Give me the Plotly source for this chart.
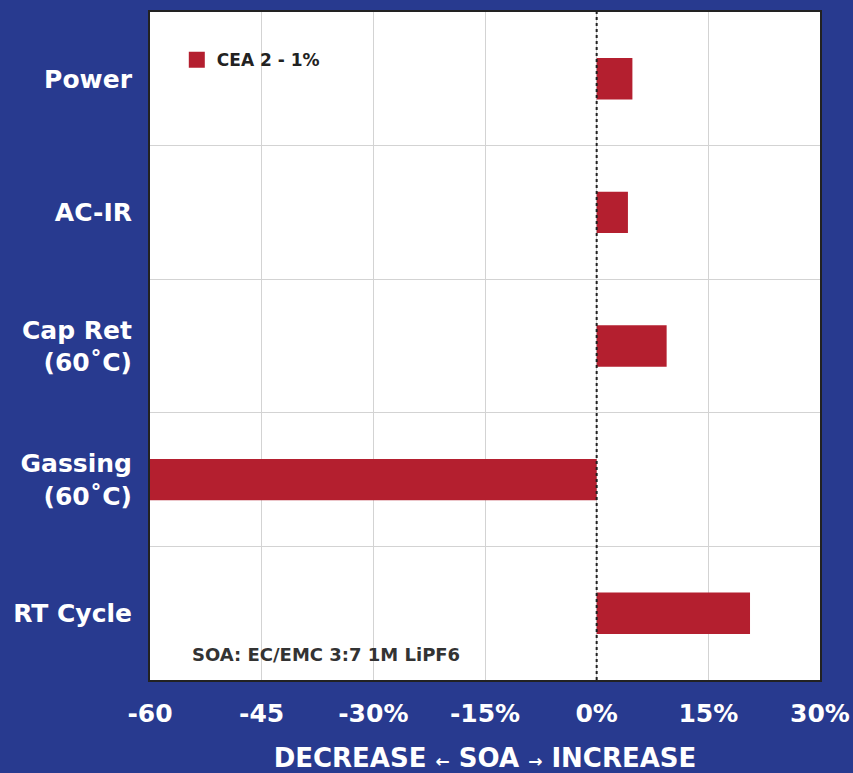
import plotly.graph_objects as go

categories = ["Power", "AC-IR", "Cap Ret<br>(60˚C)", "Gassing<br>(60˚C)", "RT Cycle"]
values = [4.8, 4.2, 9.4, -60, 20.6]
series_name = "CEA 2 - 1%"
tick_vals = [-60, -45, -30, -15, 0, 15, 30]
tick_text = ["-60", "-45", "-30%", "-15%", "0%", "15%", "30%"]

BG = "#283A8F"
RED = "#B41F2F"
FONT = "DejaVu Sans"

fig = go.Figure()
fig.add_trace(go.Bar(
    x=values, y=categories, orientation="h", name=series_name,
    marker=dict(color=RED, line=dict(width=0)), width=0.31,
    showlegend=False,
))
# legend entry with a larger square swatch
fig.add_trace(go.Scatter(
    x=[None], y=[None], mode="markers", name=series_name,
    marker=dict(symbol="square", size=18, color=RED), showlegend=True,
))

fig.add_shape(type="line", xref="x", yref="paper", x0=0, x1=0, y0=0, y1=1.005,
              line=dict(color="#222222", width=2, dash="dot"))

fig.add_annotation(xref="paper", yref="paper", x=0.06, y=0.038, xanchor="left", yanchor="middle",
                   text="SOA: EC/EMC 3:7 1M LiPF6", showarrow=False,
                   font=dict(family=FONT, size=18, color="#333333", weight="bold"))

fig.update_layout(
    width=853, height=773,
    paper_bgcolor=BG, plot_bgcolor="white",
    margin=dict(l=150, r=33, t=12, b=93),
    font=dict(family=FONT, color="white"),
    legend=dict(x=0.04, y=0.928, xanchor="left", yanchor="middle", bgcolor="rgba(0,0,0,0)",
                font=dict(family=FONT, size=17, color="#222222", weight="bold"),
                itemwidth=30),
    xaxis=dict(range=[-60, 30], tickvals=tick_vals, ticktext=tick_text, automargin=False,
               showgrid=True, gridcolor="#D3D3D3", gridwidth=1, zeroline=False,
               showline=True, linecolor="#222222", linewidth=2, mirror=True,
               tickfont=dict(family=FONT, size=25, color="white", weight="bold"),
               ticks="", ticklabelstandoff=10,
               title=dict(text="DECREASE <span style='font-size:17px'>←</span> SOA <span style='font-size:17px'>→</span> INCREASE",
                          font=dict(family=FONT, size=26, color="white", weight="bold"), standoff=22),
               fixedrange=True),
    yaxis=dict(categoryorder="array", categoryarray=categories, autorange="reversed",
               automargin=False,
               tickson="boundaries", showgrid=True, gridcolor="#D3D3D3", gridwidth=1,
               showline=True, linecolor="#222222", linewidth=2, mirror=True,
               tickfont=dict(family=FONT, size=25, color="white", weight="bold"),
               ticks="", ticklabelstandoff=11, fixedrange=True),
)

fig.write_html("out.html", config={"displayModeBar": False},
               post_script="document.body.style.margin='0';document.body.style.overflow='hidden';"
                           "document.documentElement.style.overflow='hidden';"
                           "document.body.style.background='#283A8F';")
